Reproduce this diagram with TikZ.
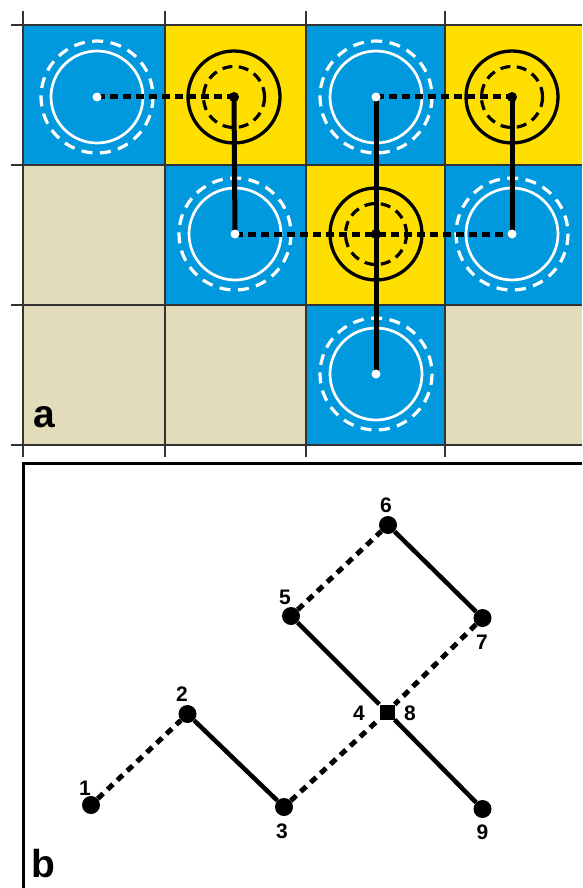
\documentclass[tikz,border=0pt]{standalone}
\usepackage{fontspec}
\setmainfont{Liberation Sans}
\definecolor{cblue}{HTML}{0099DD}
\definecolor{cyel}{HTML}{FFDF00}
\definecolor{ctan}{HTML}{E2DCBA}
\definecolor{cgrid}{HTML}{333333}
\begin{document}
\begin{tikzpicture}[x=1pt,y=-1pt,
  bluecell/.style={fill=cblue},
  yelcell/.style={fill=cyel},
  tancell/.style={fill=ctan},
  gridline/.style={draw=cgrid,line width=1.3pt},
  wsolid/.style={draw=white,line width=2.7pt},
  wdash/.style={draw=white,line width=3.2pt,dash pattern=on 11pt off 7.5pt},
  ksolid/.style={draw=black,line width=3.3pt},
  kdash/.style={draw=black,line width=3.2pt,dash pattern=on 10pt off 6.5pt},
  alink/.style={draw=black,line width=5pt},
  adash/.style={draw=black,line width=5pt,dash pattern=on 8pt off 5pt},
  wdot/.style={circle,fill=white,inner sep=0pt,minimum size=9pt},
  kdot/.style={circle,fill=black,inner sep=0pt,minimum size=10pt},
  bnode/.style={circle,fill=black,inner sep=0pt,minimum size=18pt},
  bsq/.style={rectangle,fill=black,inner sep=0pt,minimum size=15pt},
  bsolid/.style={draw=black,line width=4.5pt},
  bdash/.style={draw=black,line width=5pt,dash pattern=on 7.5pt off 6pt},
  numlbl/.style={inner sep=0pt,font=\fontsize{21}{21}\selectfont\bfseries},
  biglbl/.style={inner sep=0pt,anchor=base west,font=\fontsize{39}{39}\selectfont\bfseries}
]
\useasboundingbox (0,0) rectangle (582,888);
% ---- panel a: cells
\fill[bluecell] (23,25) rectangle (165,165);
\fill[yelcell] (165,25) rectangle (306,165);
\fill[bluecell] (306,25) rectangle (445,165);
\fill[yelcell] (445,25) rectangle (582,165);
\fill[tancell] (23,165) rectangle (165,305);
\fill[bluecell] (165,165) rectangle (306,305);
\fill[yelcell] (306,165) rectangle (445,305);
\fill[bluecell] (445,165) rectangle (582,305);
\fill[tancell] (23,305) rectangle (165,445);
\fill[tancell] (165,305) rectangle (306,445);
\fill[bluecell] (306,305) rectangle (445,445);
\fill[tancell] (445,305) rectangle (582,445);
% grid
\foreach \x in {23,165,306,445} \draw[gridline] (\x,11) -- (\x,457);
\foreach \y in {25,165,305,445} \draw[gridline] (11,\y) -- (582,\y);
% centres
\coordinate (B1) at (97,97);
\coordinate (Y1) at (234,97);
\coordinate (B3) at (376,97);
\coordinate (Y2) at (512,97);
\coordinate (B2) at (235,234);
\coordinate (Y3) at (376,234);
\coordinate (B4) at (512,234);
\coordinate (B5) at (376,374);
% circles
\foreach \c in {B1,B2,B3,B4,B5} {
  \draw[wsolid] (\c) circle (46);
  \draw[wdash] (\c) circle (56);
}
\foreach \c in {Y1,Y2,Y3} {
  \draw[ksolid] (\c) circle (46);
  \draw[kdash] (\c) circle (30.5);
}
% links
\draw[adash] (B1) -- (Y1);
\draw[adash] (B3) -- (Y2);
\draw[adash] (B2) -- (Y3) -- (B4);
\draw[alink] (Y1) -- (B2);
\draw[alink] (Y2) -- (B4);
\draw[alink] (B3) -- (B5);
% dots
\foreach \c in {B1,B2,B3,B4,B5} \node[wdot] (d\c) at (\c) {};
\foreach \c in {Y1,Y2,Y3} \node[kdot] (d\c) at (\c) {};
\node[biglbl] (la) at (33.5,427) {a};
% ---- panel b
\draw[black,line width=3pt] (23,888) -- (23,463) -- (582,463);
\node[bnode] (n1) at (91,805) {};
\node[bnode] (n2) at (187.5,714) {};
\node[bnode] (n3) at (284,807) {};
\node[bsq]   (n48) at (387,712) {};
\node[bnode] (n5) at (291,616) {};
\node[bnode] (n6) at (388,525) {};
\node[bnode] (n7) at (482.5,618) {};
\node[bnode] (n9) at (482.5,809) {};
\draw[bdash] (n1) -- (n2);
\draw[bsolid] (n2) -- (n3);
\draw[bdash] (n3) -- (n48);
\draw[bsolid] (n48) -- (n5);
\draw[bdash] (n5) -- (n6);
\draw[bsolid] (n6) -- (n7);
\draw[bdash] (n7) -- (n48);
\draw[bsolid] (n48) -- (n9);
\node[numlbl] (l1) at (85,788) {1};
\node[numlbl] (l2) at (182,694) {2};
\node[numlbl] (l3) at (282,831) {3};
\node[numlbl] (l4) at (359,713) {4};
\node[numlbl] (l8) at (410,713) {8};
\node[numlbl] (l5) at (285,597) {5};
\node[numlbl] (l6) at (386,505) {6};
\node[numlbl] (l7) at (482,642) {7};
\node[numlbl] (l9) at (482.5,832) {9};
\node[biglbl] (lb) at (31,877) {b};
\end{tikzpicture}
\end{document}
